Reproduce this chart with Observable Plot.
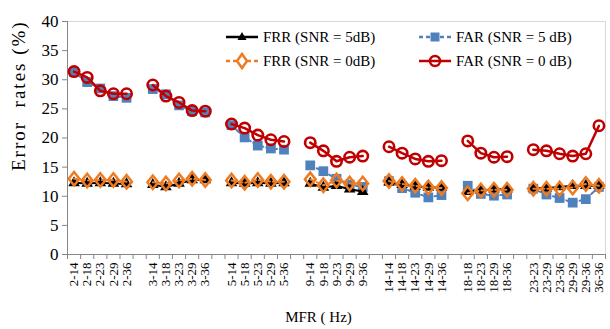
<!DOCTYPE html>
<html><head><meta charset="utf-8">
<script src="https://cdn.jsdelivr.net/npm/d3@7"></script>
<script src="https://cdn.jsdelivr.net/npm/@observablehq/plot@0.6"></script>
<style>
body{margin:0;background:#fff;}
#wrap{position:relative;width:610px;height:329px;font-family:"Liberation Serif","DejaVu Serif",serif;}
#wrap svg text{font-family:"Liberation Serif","DejaVu Serif",serif;}
.leg{position:absolute;display:flex;align-items:center;font-size:15px;color:#000;white-space:nowrap;}
.leg svg{margin-right:5px;}
</style></head><body><div id="wrap"></div>
<script>
// MFR categories, grouped (a blank slot separates groups)
const categoryGroups = [
  ["2-14","2-18","2-23","2-29","2-36"],
  ["3-14","3-18","3-23","3-29","3-36"],
  ["5-14","5-18","5-23","5-29","5-36"],
  ["9-14","9-18","9-23","9-29","9-36"],
  ["14-14","14-18","14-23","14-29","14-36"],
  ["18-18","18-23","18-29","18-36"],
  ["23-23","23-29","23-36","29-29","29-36","36-36"]
];
const frr5 = [12.3,12.2,12.3,12.2,12.1, 12.0,11.6,12.2,12.8,12.8, 12.3,12.2,12.3,12.2,12.3, 12.2,11.5,11.8,11.2,10.8, 12.4,12.0,11.7,11.5,11.5, 10.8,11.0,11.2,11.2, 11.4,11.4,11.6,11.8,11.8,11.8];
const far5 = [31.3,29.6,28.5,27.2,26.9, 28.4,27.5,25.6,24.6,24.4, 22.2,20.1,18.7,18.2,18.0, 15.3,14.3,13.0,12.0,11.6, 12.6,11.4,10.6,9.8,10.2, 11.8,10.4,10.1,10.3, 11.3,10.3,9.7,8.9,9.5,11.6];
const frr0 = [13.0,12.7,12.8,12.8,12.5, 12.4,12.2,12.7,13.0,12.8, 12.7,12.3,12.8,12.5,12.5, 12.9,11.9,12.7,12.2,12.2, 12.6,12.1,11.8,11.5,11.4, 10.5,11.0,11.1,11.1, 11.3,11.3,11.3,11.5,12.1,11.8];
const far0 = [31.4,30.4,28.1,27.6,27.6, 29.1,27.2,26.1,24.7,24.6, 22.4,21.7,20.5,19.7,19.4, 19.2,17.8,16.0,16.7,16.9, 18.5,17.4,16.4,16.0,16.1, 19.5,17.4,16.7,16.8, 18.0,17.8,17.3,16.9,17.3,22.1];
const yTicks = [0,5,10,15,20,25,30,35,40];

// slot positions
const slots = []; let s = 0;
categoryGroups.forEach((g, gi) => { if (gi > 0) s++; g.forEach(c => { slots.push({label: c, group: gi, x: s + 0.5}); s++; }); });
const nSlots = s;
const labelAt = new Map(slots.map(d => [d.x, d.label]));
const mk = vals => slots.map((d, i) => ({x: d.x, group: d.group, v: vals[i]}));

const diamond = {draw(ctx, size){ const r = Math.sqrt(size/Math.PI); ctx.moveTo(0,-r*1.25); ctx.lineTo(r,0); ctx.lineTo(0,r*1.25); ctx.lineTo(-r,0); ctx.closePath(); }};

const BLUE = "#4f81bd", ORANGE = "#ee7b22", RED = "#c00000";

const chart = Plot.plot({
  width: 610, height: 329,
  marginLeft: 67, marginRight: 5, marginTop: 21, marginBottom: 75,
  x: {domain: [0, nSlots]},
  y: {domain: [0, 40]},
  style: {fontFamily: "Liberation Serif, DejaVu Serif, serif", fontSize: "16px", color: "#000", background: "#fff"},
  marks: [
    Plot.ruleY([40], {stroke: "#d9d9d9"}),
    Plot.ruleX([nSlots], {stroke: "#d9d9d9"}),
    Plot.axisY({ticks: yTicks, tickSize: 5, tickPadding: 4, label: null, fontSize: 17, stroke: "#868686", strokeOpacity: 1}),
    Plot.axisX({ticks: d3.range(0, nSlots + 1), tickFormat: () => "", tickSize: 5, stroke: "#868686", strokeOpacity: 1, label: null}),
    Plot.axisX({ticks: slots.map(d => d.x), tickFormat: d => labelAt.get(d), tickSize: 0, tickRotate: -90, tickPadding: 8, fontSize: 13, label: null}),
    Plot.ruleX([0], {stroke: "#868686"}),
    Plot.ruleY([0], {stroke: "#868686"}),
    // FAR 5dB
    Plot.line(mk(far5), {x: "x", y: "v", z: "group", stroke: BLUE, strokeWidth: 2, strokeDasharray: "4,3"}),
    Plot.dot(mk(far5), {x: "x", y: "v", symbol: "square", r: 5.5, fill: BLUE}),
    // FRR 5dB
    Plot.line(mk(frr5), {x: "x", y: "v", z: "group", stroke: "#000", strokeWidth: 2}),
    Plot.dot(mk(frr5), {x: "x", y: "v", symbol: "triangle", r: 4.3, fill: "#000"}),
    // FRR 0dB
    Plot.line(mk(frr0), {x: "x", y: "v", z: "group", stroke: ORANGE, strokeWidth: 2, strokeDasharray: "4,3"}),
    Plot.dot(mk(frr0), {x: "x", y: "v", symbol: diamond, r: 5.4, fill: "none", stroke: ORANGE, strokeWidth: 2.5}),
    // FAR 0dB
    Plot.line(mk(far0), {x: "x", y: "v", z: "group", stroke: RED, strokeWidth: 2.5}),
    Plot.dot(mk(far0), {x: "x", y: "v", r: 5.2, fill: "none", stroke: RED, strokeWidth: 2.6}),
    Plot.text(["Error\u00a0\u00a0rates\u00a0(%)"], {frameAnchor: "left", dx: -49, dy: 33, rotate: -90, fontSize: 19}),
    Plot.text(["MFR\u00a0( Hz)"], {frameAnchor: "bottom", dx: -18, dy: 67, fontSize: 15})
  ]
});
const wrap = document.getElementById("wrap");
wrap.appendChild(chart);
// widen the y-axis title spacing like the reference
d3.select(chart).selectAll("text").filter(function(){ return this.textContent.startsWith("Error"); }).attr("letter-spacing", "2px");

// legend
const legendItems = [
  {label: "FRR (SNR = 5dB)", color: "#000", sym: "tri", dash: null, left: 226, top: 37},
  {label: "FAR (SNR = 5 dB)", color: BLUE, sym: "sq", dash: "4,3", left: 419, top: 37},
  {label: "FRR (SNR = 0dB)", color: ORANGE, sym: "dia", dash: "4,3", left: 226, top: 61},
  {label: "FAR (SNR = 0 dB)", color: RED, sym: "circ", dash: null, left: 419, top: 61}
];
legendItems.forEach(it => {
  const d = document.createElement("div");
  d.className = "leg";
  d.style.left = it.left + "px";
  d.style.top = (it.top - 10) + "px";
  let sym = "";
  if (it.sym === "tri") sym = `<path d="M16,5 L20.5,13 L11.5,13 Z" fill="#000"/>`;
  if (it.sym === "sq") sym = `<rect x="11.5" y="5.5" width="9" height="9" fill="${it.color}"/>`;
  if (it.sym === "dia") sym = `<path d="M16,3 L21,10 L16,17 L11,10 Z" fill="#fff" stroke="${it.color}" stroke-width="2.5"/>`;
  if (it.sym === "circ") sym = `<circle cx="16" cy="10" r="5" fill="none" stroke="${it.color}" stroke-width="2.5"/>`;
  d.innerHTML = `<svg width="32" height="20"><line x1="0" x2="32" y1="10" y2="10" stroke="${it.color}" stroke-width="2.5" ${it.dash ? `stroke-dasharray="${it.dash}"` : ""}/>${sym}</svg><span>${it.label}</span>`;
  wrap.appendChild(d);
});
</script></body></html>
